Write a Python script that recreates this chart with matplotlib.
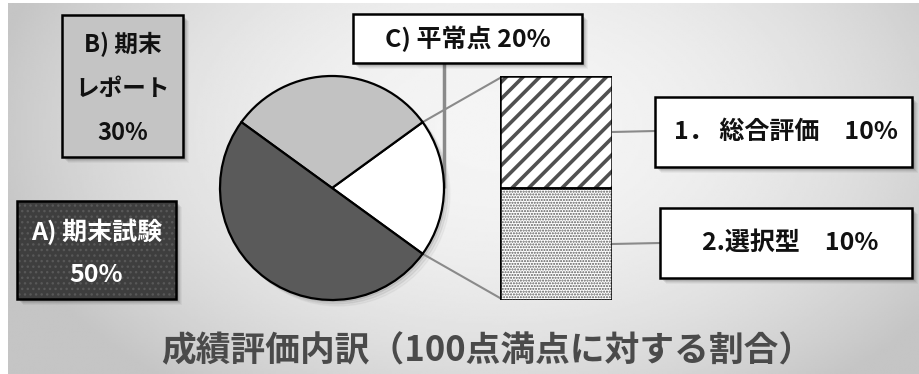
import numpy as np
import matplotlib
matplotlib.use("Agg")
import matplotlib.pyplot as plt
from matplotlib.patches import Rectangle

plt.rcParams['font.family'] = ['Noto Sans CJK JP', 'DejaVu Sans']

# ---- data ----
pie_labels = ["C) 平常点 20%", "B) 期末\nレポート\n30%", "A) 期末試験\n50%"]
pie_values = [20, 30, 50]
pie_colors = ["#ffffff", "#c2c2c2", "#5a5a5a"]
bar_labels = ["1． 総合評価　10%", "2.選択型　10%"]
bar_values = [10, 10]
title = "成績評価内訳（100点満点に対する割合）"

W, H = 919, 374
fig = plt.figure(figsize=(W / 100, H / 100), dpi=100)
fig.patch.set_facecolor("white")
ax = fig.add_axes([0, 0, 1, 1])


def Y(y):
    return H - y


# background gradient panel
yy, xx = np.mgrid[0:200, 0:400]
gx = (xx / 399.0 * 911 + 8 - 500) / 520.0
gy = (yy / 199.0 * 371 + 3 - 130) / 330.0
d2 = gx ** 2 + gy ** 2
grad = np.clip(0.96 - 0.19 * d2, 0.77, 0.96)
ax.imshow(grad, extent=(8, W, Y(H), Y(3)), cmap="gray", vmin=0, vmax=1,
          aspect="auto", zorder=0, interpolation="bilinear")

# pie
cx, cy, r = 332, Y(188), 112
start = -36
# soft pie shadow
for off, a in [(6, 0.03), (4, 0.05), (2, 0.07)]:
    ax.add_patch(plt.Circle((cx + off, cy - off), r, color="black", alpha=a,
                            zorder=2))
wedges, _ = ax.pie(pie_values, colors=pie_colors, startangle=start,
                   counterclock=True, center=(cx, cy), radius=r,
                   wedgeprops=dict(edgecolor="black", linewidth=1.6))
for w in wedges:
    w.set_zorder(3)


def shadow(x0, y0, x1, y1, zorder=2):
    for off, a in [(6, 0.04), (5, 0.05), (4, 0.07), (3, 0.09)]:
        ax.add_patch(Rectangle((x0 + off, Y(y1) - off), x1 - x0, y1 - y0,
                               facecolor="black", edgecolor="none", alpha=a,
                               zorder=zorder))


def box(x0, y0, x1, y1, fc, hatch=None, hc=None, zorder=4):
    shadow(x0, y0, x1, y1, zorder=zorder - 1)
    ax.add_patch(Rectangle((x0, Y(y1)), x1 - x0, y1 - y0, facecolor=fc,
                           edgecolor="none", zorder=zorder))
    if hatch:
        p = Rectangle((x0, Y(y1)), x1 - x0, y1 - y0, facecolor="none",
                      edgecolor=hc, linewidth=0, hatch=hatch, zorder=zorder)
        ax.add_patch(p)
    ax.add_patch(Rectangle((x0, Y(y1)), x1 - x0, y1 - y0, facecolor="none",
                           edgecolor="black", linewidth=1.8, zorder=zorder + 0.5))


# leader line for C
ax.plot([444, 444], [Y(63), Y(188)], color="#8a8a8a", lw=2.5, zorder=2.5,
        solid_capstyle="butt")

# connection lines pie -> bar
a1 = np.deg2rad(start + pie_values[0] * 3.6)
a0 = np.deg2rad(start)
ax.plot([cx + r * np.cos(a1), 500], [cy + r * np.sin(a1), Y(78)],
        color="#8a8a8a", lw=1.5, zorder=2.5)
ax.plot([cx + r * np.cos(a0), 500], [cy + r * np.sin(a0), Y(298)],
        color="#8a8a8a", lw=1.5, zorder=2.5)

# leader lines bar -> label boxes
ax.plot([612, 655], [Y(132), Y(131)], color="#8a8a8a", lw=1.5, zorder=2.5)
ax.plot([612, 660], [Y(244), Y(243)], color="#8a8a8a", lw=1.5, zorder=2.5)

# label boxes
box(353, 14, 582, 63, "white")
ax.text((353 + 582) / 2, Y(39), pie_labels[0], ha="center", va="center",
        fontsize=18, fontweight="bold", color="#111111", zorder=6)

box(62, 15, 183, 157, "#c4c4c4")
for i, line in enumerate(pie_labels[1].split("\n")):
    ax.text(122.5, Y(44 + 44.5 * i), line, ha="center", va="center",
            fontsize=17, fontweight="bold", color="#111111", zorder=6)

box(17, 201, 176, 299, "#3e3e3e", hatch="...", hc="#585858")
for i, line in enumerate(pie_labels[2].split("\n")):
    ax.text(96.5, Y(232 + 43 * i), line, ha="center", va="center",
            fontsize=18, fontweight="bold", color="white", zorder=6)

box(655, 97, 912, 167, "white")
ax.text(786, Y(132), bar_labels[0], ha="center", va="center",
        fontsize=18, fontweight="bold", color="#111111", zorder=6)
box(660, 208, 912, 278, "white")
ax.text(790, Y(243), bar_labels[1], ha="center", va="center",
        fontsize=18, fontweight="bold", color="#111111", zorder=6)

# title
ax.text(487, Y(351), title, ha="center", va="center", fontsize=25,
        fontweight="bold", color="#4a4a4a", zorder=6)

ax.set_xlim(0, W)
ax.set_ylim(0, H)
ax.set_aspect("auto")
ax.axis("off")

# stacked bar of C breakdown
ax2 = fig.add_axes([500 / W, Y(300) / H, 112 / W, 224 / H])
hatches = ["//", "......"]
hcolors = ["#505050", "#5a5a5a"]
hlw = [2.6, 1.0]
bottoms = [bar_values[1], 0]
for v, b, h, hc, lw in zip(bar_values, bottoms, hatches, hcolors, hlw):
    with plt.rc_context({"hatch.linewidth": lw}):
        bars = ax2.bar([0], [v], bottom=b, width=1, color="white",
                       edgecolor=hc, linewidth=0, hatch=h)
        for p in bars:
            if hasattr(p, "set_hatch_linewidth"):
                p.set_hatch_linewidth(lw)
    ax2.bar([0], [v], bottom=b, width=1, fill=False, edgecolor="black",
            linewidth=1.8)
ax2.set_xlim(-0.5, 0.5)
ax2.set_ylim(0, sum(bar_values))
ax2.axis("off")

fig.savefig("out.png", dpi=100)
